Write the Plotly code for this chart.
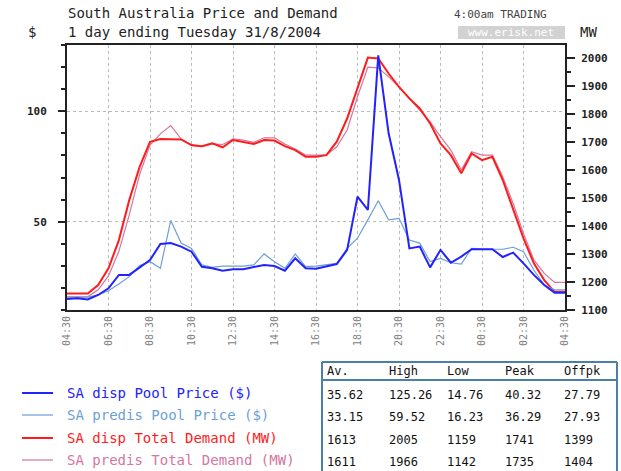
import pandas as pd
import plotly.graph_objects as go

# Half-hourly trading intervals, 04:30 Mon to 04:30 Tue
times = pd.date_range("2004-08-30 04:30", "2004-08-31 04:30", freq="30min")
tick_times = times[::4]
tick_labels = ["04:30", "06:30", "08:30", "10:30", "12:30", "14:30", "16:30",
               "18:30", "20:30", "22:30", "00:30", "02:30", "04:30"]

# $/MWh
disp_price = [15.0, 15.3, 14.8, 16.8, 19.8, 25.9, 25.9, 29.3, 32.6, 39.9,
              40.3, 38.7, 36.4, 29.6, 28.9, 27.8, 28.5, 28.5, 29.6, 30.4,
              29.9, 27.8, 33.4, 28.9, 28.7, 29.6, 30.8, 37.2, 61.3, 55.3,
              125.3, 90.0, 68.9, 37.9, 38.7, 29.3, 37.2, 31.4, 34.2, 37.5,
              37.5, 37.5, 34.0, 36.0, 31.1, 25.9, 21.3, 17.8, 17.8]
predis_price = [15.8, 15.8, 15.8, 16.8, 18.7, 21.8, 25.1, 30.1, 31.9, 28.9,
                50.5, 40.3, 37.9, 30.4, 29.3, 29.9, 29.9, 29.9, 30.4, 35.4,
                31.9, 28.9, 35.4, 29.6, 29.9, 30.4, 31.1, 37.9, 42.5, 50.8,
                59.5, 50.8, 51.5, 41.7, 40.3, 31.9, 33.4, 31.4, 30.8, 37.9,
                37.5, 37.5, 37.5, 38.4, 36.4, 28.1, 21.3, 19.1, 19.1]
# MW
disp_demand = [1159, 1159, 1159, 1189, 1249, 1350, 1493, 1612, 1702, 1712,
               1712, 1710, 1690, 1686, 1696, 1682, 1708, 1702, 1694, 1708,
               1706, 1686, 1672, 1648, 1648, 1654, 1702, 1785, 1898, 2003,
               2000, 1946, 1898, 1857, 1821, 1767, 1696, 1654, 1589, 1660,
               1636, 1648, 1565, 1464, 1356, 1267, 1207, 1165, 1165]
predis_demand = [1147, 1147, 1147, 1172, 1222, 1310, 1440, 1585, 1690, 1730,
                 1760, 1712, 1688, 1684, 1694, 1692, 1712, 1708, 1700, 1716,
                 1716, 1694, 1676, 1654, 1654, 1654, 1684, 1744, 1863, 1969,
                 1966, 1934, 1898, 1857, 1815, 1773, 1720, 1672, 1601, 1666,
                 1654, 1654, 1577, 1481, 1374, 1279, 1231, 1199, 1199]

series_names = ["SA disp Pool Price ($)", "SA predis Pool Price ($)",
                "SA disp Total Demand (MW)", "SA predis Total Demand (MW)"]
series_colors = ["#2222ff", "#6c9fd6", "#ff1c1c", "#d6769f"]

table_header = ["Av.", "High", "Low", "Peak", "Offpk"]
table_rows = [["35.62", "125.26", "14.76", "40.32", "27.79"],
              ["33.15", "59.52", "16.23", "36.29", "27.93"],
              ["1613", "2005", "1159", "1741", "1399"],
              ["1611", "1966", "1142", "1735", "1404"]]

MONO = "DejaVu Sans Mono"

# plot area in page pixels, used to place the outside text
PL, PR, PT, PB = 67, 565, 45, 310


def px(x):
    return (x - PL) / (PR - PL)


def py(y):
    return (PB - y) / (PB - PT)


fig = go.Figure()

# demand on the right axis, price drawn on top on the overlaying left axis
fig.add_trace(go.Scatter(x=times, y=predis_demand, name=series_names[3], yaxis="y",
                         mode="lines", line=dict(color=series_colors[3], width=1.2)))
fig.add_trace(go.Scatter(x=times, y=disp_demand, name=series_names[2], yaxis="y",
                         mode="lines", line=dict(color=series_colors[2], width=2)))
fig.add_trace(go.Scatter(x=times, y=predis_price, name=series_names[1], yaxis="y2",
                         mode="lines", line=dict(color=series_colors[1], width=1.2)))
fig.add_trace(go.Scatter(x=times, y=disp_price, name=series_names[0], yaxis="y2",
                         mode="lines", line=dict(color=series_colors[0], width=2)))

annotations = []
shapes = []


def label(x, y, text, size=14, color="#222", anchor="left"):
    annotations.append(dict(x=px(x), y=py(y), xref="paper", yref="paper", text=text,
                            showarrow=False, xanchor=anchor, yanchor="middle",
                            font=dict(family=MONO, size=size, color=color)))


# titles
label(66, 13, "South Australia Price and Demand")
label(66, 32, "1 day ending Tuesday 31/8/2004")
label(26, 32, "$")
label(578, 32, "MW")
label(452, 14, "4:00am TRADING", size=11, color="#444")
shapes.append(dict(type="rect", xref="paper", yref="paper", x0=px(458), x1=px(565),
                   y0=py(26), y1=py(39), fillcolor="#d2d2d2", line=dict(width=0)))
label(511, 32.5, "www.erisk.net", size=11, color="#ffffff", anchor="center")

# legend drawn by hand below the chart
legend_y = [393, 415, 438, 460]
for name, color, ly, w in zip(series_names, series_colors, legend_y, [2, 1.2, 2, 1.2]):
    shapes.append(dict(type="line", xref="paper", yref="paper", x0=px(22), x1=px(53),
                       y0=py(ly), y1=py(ly), line=dict(color=color, width=w)))
    label(65, ly, name, size=14, color=color)

# summary table
tcol = "#4a7fa8"
col_x = [325, 387, 445, 503, 562]
row_y = [395, 417, 440, 462]
shapes.append(dict(type="line", xref="paper", yref="paper", x0=px(322), x1=px(617),
                   y0=py(362), y1=py(362), line=dict(color=tcol, width=2)))
shapes.append(dict(type="line", xref="paper", yref="paper", x0=px(322), x1=px(617),
                   y0=py(380), y1=py(380), line=dict(color=tcol, width=2)))
shapes.append(dict(type="line", xref="paper", yref="paper", x0=px(322), x1=px(322),
                   y0=py(362), y1=py(472), line=dict(color=tcol, width=2)))
shapes.append(dict(type="line", xref="paper", yref="paper", x0=px(617), x1=px(617),
                   y0=py(362), y1=py(472), line=dict(color=tcol, width=2)))
for h, cx in zip(table_header, col_x):
    label(cx, 371, h, size=12, color="#111")
for row, ry in zip(table_rows, row_y):
    for val, cx in zip(row, col_x):
        label(cx, ry, val, size=12, color="#111")

fig.update_layout(
    width=621, height=471, autosize=False,
    margin=dict(l=PL, r=621 - PR, t=PT, b=471 - PB),
    paper_bgcolor="white", plot_bgcolor="white",
    showlegend=False,
    font=dict(family=MONO),
    annotations=annotations,
    shapes=shapes,
    xaxis=dict(
        range=[times[0], times[-1]],
        tickvals=tick_times, ticktext=tick_labels, tickangle=-90,
        tickfont=dict(family=MONO, size=10, color="#808080"),
        ticks="", showgrid=True, gridcolor="#bbbbbb", griddash="dot", gridwidth=1,
        showline=True, linecolor="#222", linewidth=2, mirror=True, zeroline=False,
    ),
    yaxis=dict(
        side="right", range=[1100, 2048], tick0=1100, dtick=100,
        ticks="outside", ticklen=8, tickcolor="#222", tickwidth=1.5,
        minor=dict(tick0=1100, dtick=50, ticks="outside", ticklen=4, tickcolor="#222"),
        tickfont=dict(family=MONO, size=11, color="#222", weight="bold"),
        ticklabelstandoff=4,
        showgrid=False, zeroline=False,
        showline=True, linecolor="#222", linewidth=2,
    ),
    yaxis2=dict(
        overlaying="y", side="left", range=[10, 130], tickvals=[50, 100],
        ticks="outside", ticklen=7, tickcolor="#222", tickwidth=1.5,
        minor=dict(tick0=0, dtick=10, ticks="outside", ticklen=4, tickcolor="#222"),
        tickfont=dict(family=MONO, size=11, color="#222", weight="bold"),
        ticklabelstandoff=9,
        showgrid=True, gridcolor="#bbbbbb", griddash="dot", gridwidth=1,
        zeroline=False, showline=True, linecolor="#222", linewidth=2,
    ),
)

# page body has a default 8px margin; drop it so the figure sits at the top-left
fig.write_html("out.html", config={"displayModeBar": False},
               post_script="document.body.style.margin='0';")
